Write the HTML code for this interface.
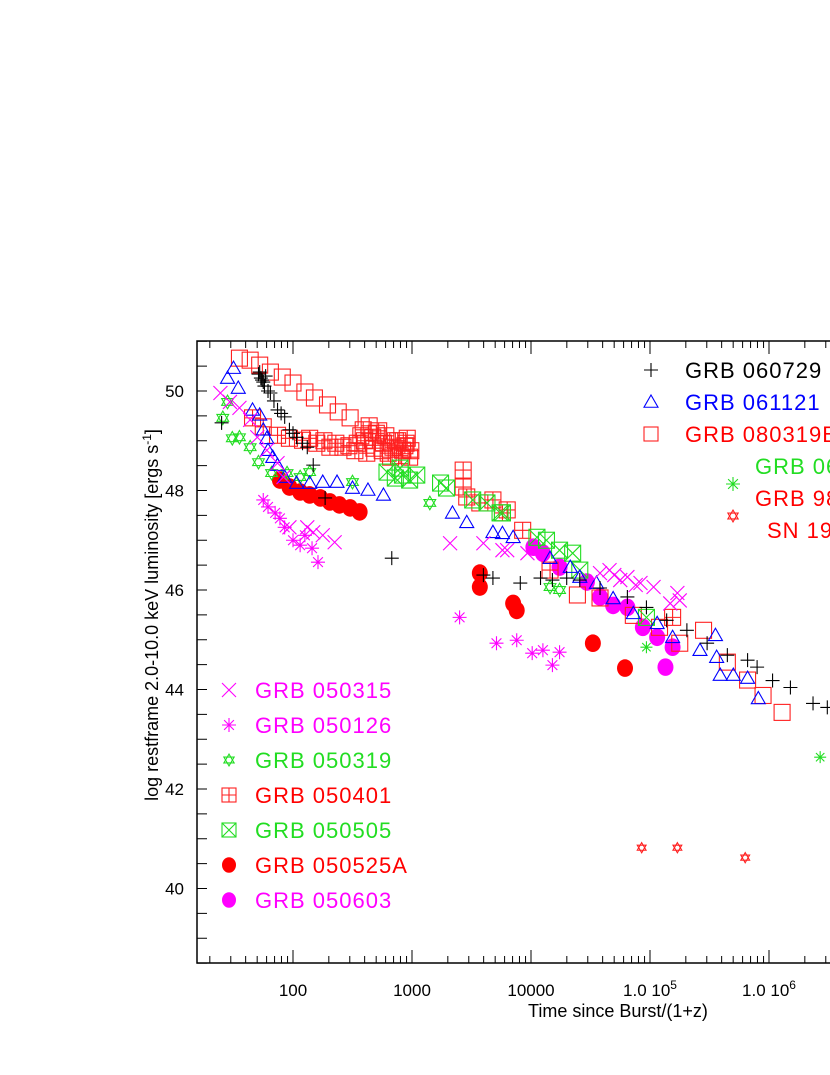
<!DOCTYPE html>
<html><head><meta charset="utf-8"><style>
html,body{margin:0;padding:0;background:#fff;}
svg{display:block;font-family:"Liberation Sans",sans-serif;}
</style></head><body>
<svg id="chart" width="830" height="1075" viewBox="0 0 830 1075">
<defs><clipPath id="plotclip"><rect x="197" y="341" width="700" height="622"/></clipPath></defs>
<g id="axes"></g>
<g id="marks" clip-path="url(#plotclip)"></g>
<g id="legend"></g>
</svg>
<script>
// x values are log10(time since burst / (1+z)), y values are log luminosity
const xTickLabels = ["100","1000","10000","1.0 10^5","1.0 10^6"];
const xTickDecades = [2,3,4,5,6];
const yTickLabels = ["40","42","44","46","48","50"];
const yTickValues = [40,42,44,46,48,50];

const s060729_x=[1.40,1.71,1.74,1.77,1.73,1.75,1.72,1.76,1.79,1.81,1.84,1.87,1.90,1.93,1.97,2.00,2.03,2.08,2.12,2.17,2.27,2.83,3.60,3.68,3.91,4.08,4.18,4.30,4.41,4.58,4.81,4.97,5.14,5.31,5.48,5.65,5.82,5.90,6.03,6.18,6.37,6.49];
const s060729_y=[49.36,50.34,50.22,50.30,50.26,50.18,50.38,50.10,50.00,49.96,49.80,49.62,49.55,49.48,49.22,49.15,49.07,48.95,48.87,48.51,47.85,46.64,46.30,46.24,46.14,46.24,46.20,46.24,46.20,46.04,45.86,45.65,45.39,45.19,44.93,44.69,44.59,44.45,44.18,44.04,43.72,43.64];
const s061121_x=[1.45,1.50,1.54,1.66,1.72,1.75,1.78,1.79,1.83,1.87,1.93,2.03,2.14,2.25,2.37,2.50,2.63,2.76,3.34,3.46,3.68,3.76,3.85,4.16,4.33,4.41,4.55,4.69,4.86,5.06,5.19,5.42,5.55,5.56,5.59,5.70,5.82,5.91];
const s061121_y=[50.26,50.46,50.06,49.62,49.52,49.22,49.05,48.81,48.67,48.51,48.27,48.15,48.15,48.17,48.17,48.05,48.01,47.91,47.55,47.36,47.16,47.14,47.06,46.64,46.46,46.26,46.14,45.83,45.53,45.33,45.05,44.79,45.09,44.65,44.29,44.29,44.23,43.82];
const s080319_x=[1.55,1.64,1.72,1.81,1.91,2.00,2.10,2.18,2.29,2.38,2.48,4.39,4.58,4.86,5.08,5.25,5.45,5.65,5.82,5.95,6.11];
const s080319_y=[50.66,50.62,50.52,50.38,50.28,50.16,49.98,49.86,49.72,49.58,49.46,45.90,45.84,45.49,45.25,44.93,45.19,44.55,44.19,43.88,43.54];
const s050401_x=[1.66,1.75,1.87,1.97,2.08,2.20,2.31,2.42,2.54,2.59,2.67,2.76,2.84,2.92,2.98,2.62,2.82,2.70,2.88,2.95,2.47,2.52,2.57,2.64,2.72,2.78,2.86,2.94,2.99,2.60,2.68,2.75,2.80,2.90,2.96,2.36,2.26,2.14,3.43,3.43,3.46,3.57,3.68,3.76,3.80,3.93,4.16,5.19];
const s050401_y=[49.46,49.28,49.11,49.05,49.01,48.95,48.87,48.87,48.95,49.22,49.07,48.95,48.87,48.81,48.67,48.75,48.67,49.15,49.00,48.95,48.90,48.80,49.10,49.30,49.20,49.10,49.00,48.90,48.80,49.00,48.85,48.80,48.75,48.70,49.05,48.95,49.00,49.05,48.41,48.07,47.87,47.75,47.81,47.55,47.61,47.20,46.40,45.45];
const s050315_x=[1.39,1.47,1.55,1.64,1.70,1.78,1.87,1.92,1.97,2.12,2.25,2.35,2.17,3.32,3.60,3.76,3.80,3.97,4.58,4.66,4.81,4.92,5.03,5.17,5.23,5.25,4.70,4.75,4.88];
const s050315_y=[49.96,49.78,49.66,49.42,49.07,48.81,48.55,48.27,47.26,47.26,47.10,46.96,47.16,46.94,46.94,46.80,46.80,46.74,46.34,46.40,46.26,46.14,46.06,45.73,45.94,45.79,46.30,46.20,46.10];
const s050126_x=[1.75,1.79,1.85,1.89,1.93,2.00,2.06,2.16,2.21,2.10,3.40,3.71,3.88,4.01,4.10,4.18,4.24];
const s050126_y=[47.81,47.67,47.55,47.44,47.26,47.00,46.90,46.84,46.56,47.10,45.45,44.93,44.99,44.73,44.79,44.49,44.75];
const s050319_x=[1.41,1.45,1.49,1.55,1.64,1.71,1.82,1.95,2.06,2.14,2.50,3.15,4.16,4.24];
const s050319_y=[49.46,49.78,49.05,49.07,48.87,48.57,48.35,48.35,48.27,48.37,48.17,47.75,46.06,46.00];
const s050505_x=[2.79,2.86,2.92,2.98,3.04,2.90,3.24,3.29,3.51,3.63,3.74,3.76,4.05,4.13,4.24,4.35,4.41,4.97];
const s050505_y=[48.37,48.25,48.31,48.21,48.31,48.45,48.15,48.05,47.81,47.75,47.55,47.55,47.06,47.00,46.80,46.74,46.40,45.45];
const s050525_x=[1.89,1.97,2.06,2.14,2.23,2.31,2.39,2.48,2.56,3.57,3.57,3.85,3.88,4.52,4.79];
const s050525_y=[48.21,48.07,47.97,47.91,47.85,47.77,47.71,47.65,47.57,46.34,46.06,45.73,45.59,44.93,44.43];
const s050603_x=[4.02,4.10,4.24,4.47,4.58,4.69,4.81,4.94,5.06,5.19,5.13];
const s050603_y=[46.86,46.74,46.46,46.16,45.86,45.69,45.65,45.25,45.05,44.85,44.45];
const sGreenAst_x=[4.97,6.43];
const sGreenAst_y=[44.85,42.64];
const sRedStar_x=[4.93,5.23,5.80];
const sRedStar_y=[40.82,40.82,40.62];

const NS="http://www.w3.org/2000/svg";
function X(v){return 293+119*(v-2);}
function Y(v){return 391-49.75*(v-50);}
function mk(tag,attrs,parent){const e=document.createElementNS(NS,tag);for(const k in attrs)e.setAttribute(k,attrs[k]);parent.appendChild(e);return e;}
const axes=document.getElementById('axes'),marks=document.getElementById('marks'),legend=document.getElementById('legend');

const frame=mk('rect',{x:197,y:341,width:700,height:622,fill:'none',stroke:'#000','stroke-width':1.5},axes);


for(let d=1;d<=6;d++){for(let m=1;m<=9;m++){const v=d+Math.log10(m);const px=X(v);if(px<198||px>830)continue;const L=m===1?13:7;
const t1=mk('line',{x1:px,x2:px,y1:963,y2:963-L,stroke:'#000','stroke-width':1},axes);


const t2=mk('line',{x1:px,x2:px,y1:341,y2:341+L,stroke:'#000','stroke-width':1},axes);

}}
xTickDecades.forEach((d,i)=>{const lab=xTickLabels[i];const t=mk('text',{x:X(d),y:996,'font-size':17,'text-anchor':'middle',fill:'#000'},axes);


if(lab.indexOf('^')>=0){const p=lab.split('^');t.textContent=p[0];const s=mk('tspan',{'font-size':12,dy:-7},t);s.textContent=p[1];}else t.textContent=lab;});
for(let v=38.5;v<=51;v+=0.5){const py=Y(v);const tk=mk('line',{x1:197,x2:207,y1:py,y2:py,stroke:'#000','stroke-width':1},axes);

}
yTickValues.forEach((v,i)=>{const t=mk('text',{x:184,y:Y(v)+6,'font-size':17,'text-anchor':'end',fill:'#000'},axes);


t.textContent=yTickLabels[i];});
const xt=mk('text',{x:618,y:1017,'font-size':18,'text-anchor':'middle',fill:'#000'},axes);


xt.textContent='Time since Burst/(1+z)';
const yt=mk('text',{x:0,y:0,'font-size':18,'text-anchor':'middle',fill:'#000',transform:'translate(158,615) rotate(-90)'},axes);


yt.textContent='log restframe 2.0-10.0 keV luminosity [ergs s';
const ys=mk('tspan',{'font-size':12,dy:-7},yt);ys.textContent='-1';
const ye=mk('tspan',{dy:7},yt);ye.textContent=']';

function marker(type,cx,cy,col,parent,sz){sz=sz||7;const g=mk('g',{},parent);const sw=1.1;
if(type==='plus'){mk('path',{d:`M${cx-sz} ${cy}H${cx+sz}M${cx} ${cy-sz}V${cy+sz}`,stroke:col,'stroke-width':sw,fill:'none'},g);}
else if(type==='tri'){mk('path',{d:`M${cx} ${cy-sz}L${cx+sz} ${cy+sz*0.75}L${cx-sz} ${cy+sz*0.75}Z`,stroke:col,'stroke-width':sw,fill:'none'},g);}
else if(type==='sq'){mk('rect',{x:cx-sz,y:cy-sz,width:2*sz,height:2*sz,stroke:col,'stroke-width':sw,fill:'none'},g);}
else if(type==='sqplus'){mk('rect',{x:cx-sz,y:cy-sz,width:2*sz,height:2*sz,stroke:col,'stroke-width':sw,fill:'none'},g);mk('path',{d:`M${cx-sz} ${cy}H${cx+sz}M${cx} ${cy-sz}V${cy+sz}`,stroke:col,'stroke-width':sw},g);}
else if(type==='sqx'){mk('rect',{x:cx-sz,y:cy-sz,width:2*sz,height:2*sz,stroke:col,'stroke-width':sw,fill:'none'},g);mk('path',{d:`M${cx-sz} ${cy-sz}L${cx+sz} ${cy+sz}M${cx+sz} ${cy-sz}L${cx-sz} ${cy+sz}`,stroke:col,'stroke-width':sw},g);}
else if(type==='x'){mk('path',{d:`M${cx-sz} ${cy-sz}L${cx+sz} ${cy+sz}M${cx+sz} ${cy-sz}L${cx-sz} ${cy+sz}`,stroke:col,'stroke-width':sw,fill:'none'},g);}
else if(type==='ast'){mk('path',{d:`M${cx-sz} ${cy}H${cx+sz}M${cx} ${cy-sz}V${cy+sz}M${cx-sz*0.7} ${cy-sz*0.7}L${cx+sz*0.7} ${cy+sz*0.7}M${cx+sz*0.7} ${cy-sz*0.7}L${cx-sz*0.7} ${cy+sz*0.7}`,stroke:col,'stroke-width':sw,fill:'none'},g);}
else if(type==='star'){const r=sz*0.85;mk('path',{d:`M${cx} ${cy-r}L${cx+r*0.866} ${cy+r/2}L${cx-r*0.866} ${cy+r/2}Z M${cx} ${cy+r}L${cx+r*0.866} ${cy-r/2}L${cx-r*0.866} ${cy-r/2}Z`,stroke:col,'stroke-width':sw,fill:'none'},g);}
else if(type==='dot'){mk('ellipse',{cx:cx,cy:cy,rx:sz,ry:sz*1.1,fill:col},g);}
return g;}

const series=[
 {n:'grb-050525a',x:s050525_x,y:s050525_y,t:'dot',c:'#ff0000',s:8},
 {n:'grb-050603',x:s050603_x,y:s050603_y,t:'dot',c:'#ff00ff',s:8},
 {n:'grb-080319',x:s080319_x,y:s080319_y,t:'sq',c:'#ff2020',s:8},
 {n:'grb-050401',x:s050401_x,y:s050401_y,t:'sqplus',c:'#ff2020',s:8},
 {n:'grb-050505',x:s050505_x,y:s050505_y,t:'sqx',c:'#22dd22',s:8},
 {n:'grb-050319',x:s050319_x,y:s050319_y,t:'star',c:'#22dd22',s:8},
 {n:'grb-061121',x:s061121_x,y:s061121_y,t:'tri',c:'#0000ff',s:7},
 {n:'grb-050315',x:s050315_x,y:s050315_y,t:'x',c:'#ff00ff',s:7},
 {n:'grb-050126',x:s050126_x,y:s050126_y,t:'ast',c:'#ff00ff',s:7},
 {n:'grb-060729',x:s060729_x,y:s060729_y,t:'plus',c:'#000000',s:7},
 {n:'grb-green-asterisk',x:sGreenAst_x,y:sGreenAst_y,t:'ast',c:'#22dd22',s:6},
 {n:'grb-red-star',x:sRedStar_x,y:sRedStar_y,t:'star',c:'#ff2020',s:6}
];
series.forEach(S=>{const g=mk('g',{},marks);


S.x.forEach((v,i)=>{const m=marker(S.t,X(v),Y(S.y[i]),S.c,g,S.s);

});});

const legItems=[
 {t:'plus',c:'#000',tc:'#000',label:'GRB 060729',mx:651,tx:685,y:370},
 {t:'tri',c:'#0000ff',tc:'#0000ff',label:'GRB 061121',mx:651,tx:685,y:402},
 {t:'sq',c:'#ff2020',tc:'#ff0000',label:'GRB 080319B',mx:651,tx:685,y:434},
 {t:'ast',c:'#22dd22',tc:'#22dd22',label:'GRB 060218',mx:733,tx:755,y:466,my:484},
 {t:'star',c:'#ff2020',tc:'#ff0000',label:'GRB 980425',mx:733,tx:755,y:498,my:516},
 {t:null,tc:'#ff0000',label:'SN 1998bw',tx:767,y:530},
 {t:'x',c:'#ff00ff',tc:'#ff00ff',label:'GRB 050315',mx:229,tx:255,y:690},
 {t:'ast',c:'#ff00ff',tc:'#ff00ff',label:'GRB 050126',mx:229,tx:255,y:725},
 {t:'star',c:'#22dd22',tc:'#22dd22',label:'GRB 050319',mx:229,tx:255,y:760},
 {t:'sqplus',c:'#ff2020',tc:'#ff0000',label:'GRB 050401',mx:229,tx:255,y:795},
 {t:'sqx',c:'#22dd22',tc:'#22dd22',label:'GRB 050505',mx:229,tx:255,y:830},
 {t:'dot',c:'#ff0000',tc:'#ff0000',label:'GRB 050525A',mx:229,tx:255,y:865},
 {t:'dot',c:'#ff00ff',tc:'#ff00ff',label:'GRB 050603',mx:229,tx:255,y:900}
];
legItems.forEach(L=>{const g=mk('g',{},legend);


if(L.t)marker(L.t,L.mx,L.my||L.y,L.c,g,7);
const t=mk('text',{x:L.tx,y:L.y+8,'font-size':22,fill:L.tc,'letter-spacing':'1'},g);
t.textContent=L.label;});
</script>
</body></html>
